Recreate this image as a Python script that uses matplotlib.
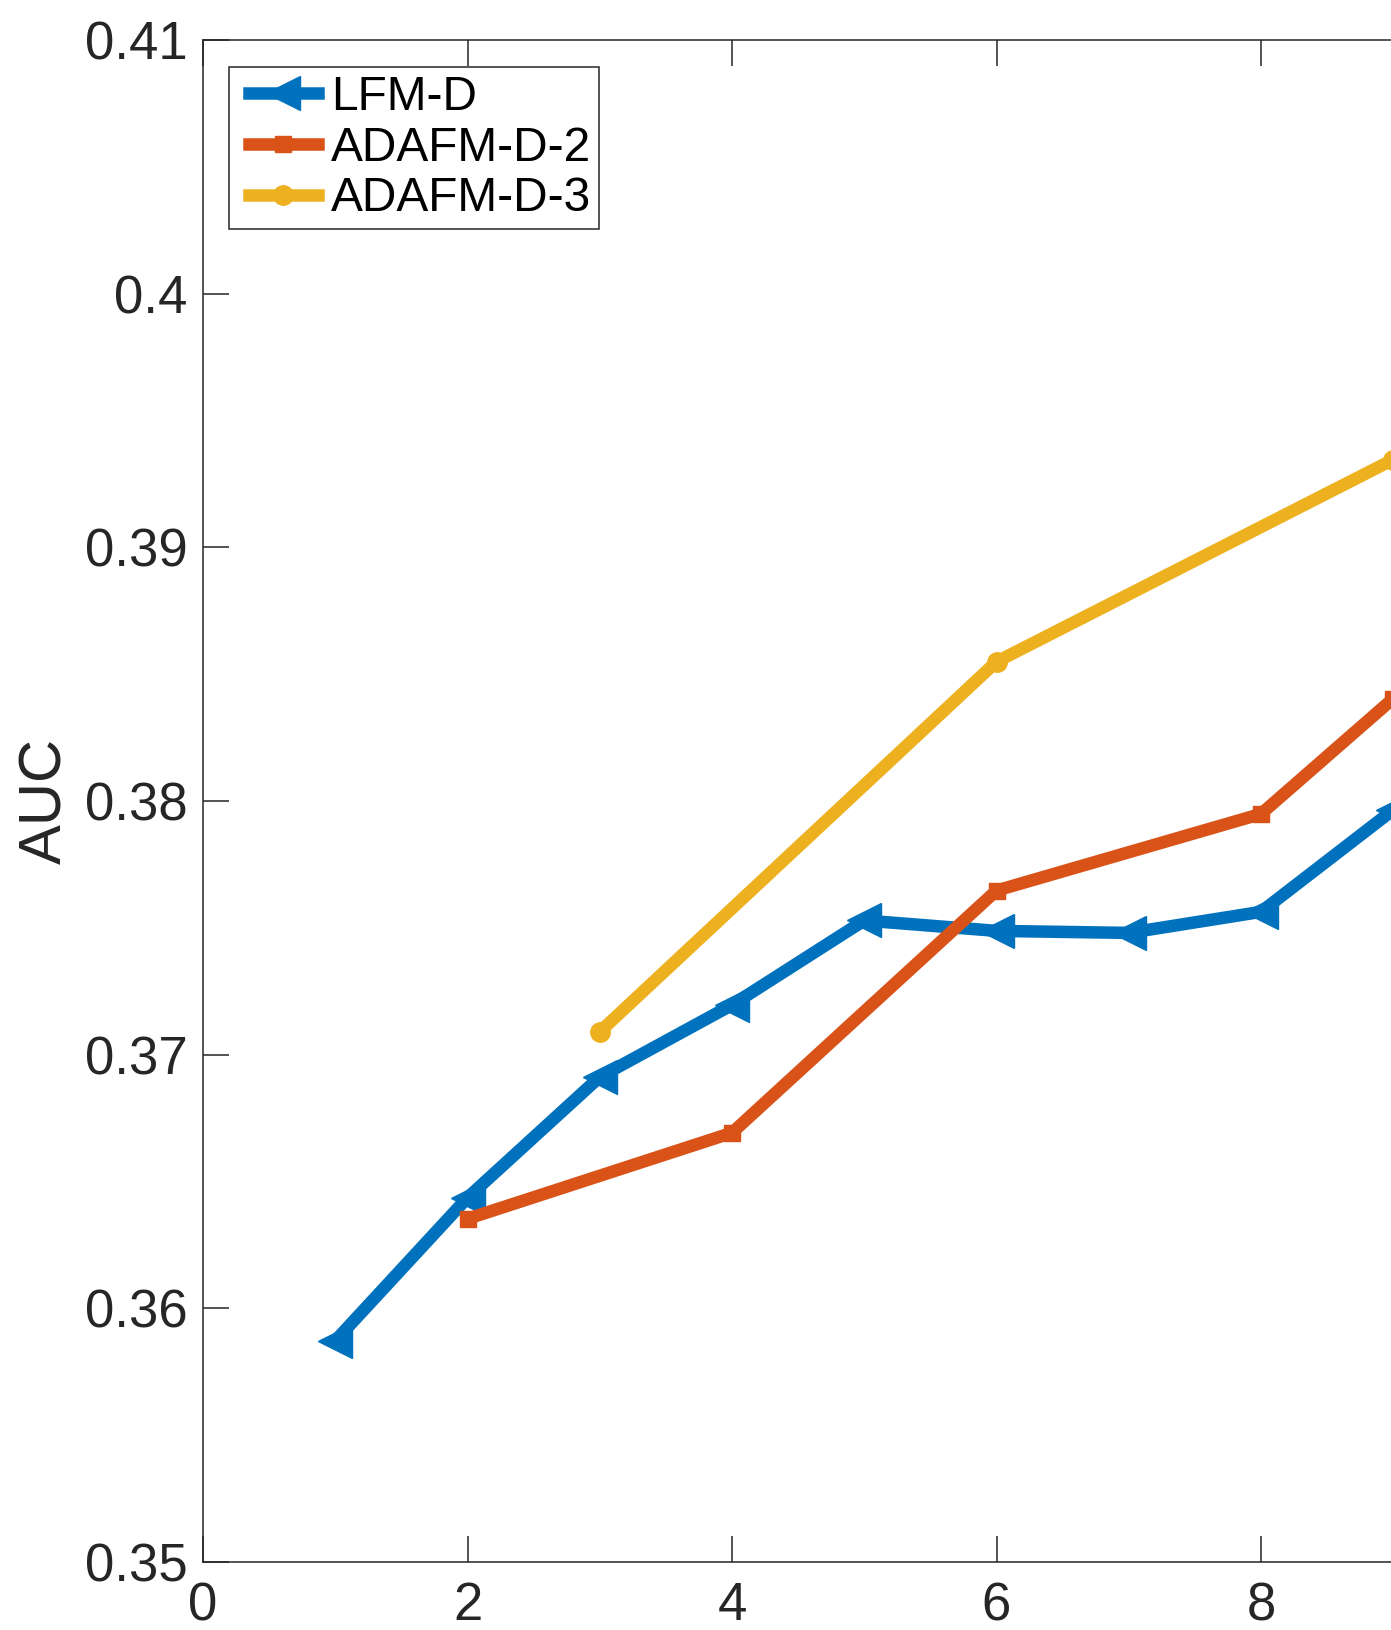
import matplotlib
matplotlib.use("Agg")
import matplotlib.pyplot as plt
from matplotlib.legend_handler import HandlerLine2D
from matplotlib.transforms import Affine2D

# Data
x_lfm = [1, 2, 3, 4, 5, 6, 7, 8, 9]
y_lfm = [0.35872, 0.36436, 0.36912, 0.37196, 0.37529, 0.37488, 0.37480, 0.37563, 0.37965]

x_ada2 = [2, 4, 6, 8, 9]
y_ada2 = [0.36353, 0.36692, 0.37647, 0.37949, 0.38404]

x_ada3 = [3, 6, 9]
y_ada3 = [0.37090, 0.38549, 0.39346]

labels = ["LFM-D", "ADAFM-D-2", "ADAFM-D-3"]
xticks = [0, 2, 4, 6, 8, 10]
yticks = [0.35, 0.36, 0.37, 0.38, 0.39, 0.40, 0.41]
yticklabels = ["0.35", "0.36", "0.37", "0.38", "0.39", "0.4", "0.41"]

plt.rcParams['font.family'] = ['Liberation Sans', 'DejaVu Sans']


class ShiftHandler(HandlerLine2D):
    """Legend line handle shifted right inside its box."""
    def __init__(self, shift_em=0.24, **kw):
        super().__init__(**kw)
        self.shift_em = shift_em

    def create_artists(self, legend, orig_handle, xdescent, ydescent, width,
                       height, fontsize, trans):
        shift = self.shift_em * fontsize
        arts = super().create_artists(legend, orig_handle, xdescent, ydescent,
                                      width - shift, height, fontsize, trans)
        for a in arts:
            a.set_transform(Affine2D().translate(shift, 0) + trans)
        return arts


W, H, DPI = 1391, 1630, 100
fig = plt.figure(figsize=(W / DPI, H / DPI), dpi=DPI)
left, right, top, bottom = 203, 1525.5, 40, 1562
ax = fig.add_axes([left / W, (H - bottom) / H, (right - left) / W, (bottom - top) / H])

c1, c2, c3 = "#0072BD", "#D95319", "#EDB120"
l1, = ax.plot(x_lfm, y_lfm, color=c1, lw=9, marker='<', ms=25, mew=1, mec=c1, mfc=c1,
              label=labels[0], clip_on=False, solid_joinstyle='miter')
l2, = ax.plot(x_ada2, y_ada2, color=c2, lw=9, marker='s', ms=11, mew=1, mec=c2, mfc=c2,
              label=labels[1], clip_on=False)
l3, = ax.plot(x_ada3, y_ada3, color=c3, lw=9, marker='o', ms=14, mew=1, mec=c3, mfc=c3,
              label=labels[2], clip_on=False)

ax.set_xlim(0, 10)
ax.set_ylim(0.35, 0.41)
ax.set_xticks(xticks)
ax.set_xticklabels([str(v) for v in xticks])
ax.set_yticks(yticks)
ax.set_yticklabels(yticklabels)

spine_col = "#262626"
for s in ax.spines.values():
    s.set_color(spine_col)
    s.set_linewidth(1.1)
ax.tick_params(axis='both', direction='in', length=19, width=1.1, color=spine_col,
               labelcolor=spine_col, labelsize=38, top=True, right=True)
ax.tick_params(axis='x', pad=14)
ax.tick_params(axis='y', pad=11)

ax.set_ylabel("AUC", fontsize=43, color=spine_col, labelpad=8)

hmap = {l1: ShiftHandler(), l2: ShiftHandler(), l3: ShiftHandler()}
leg = ax.legend(loc='upper left', bbox_to_anchor=(0.0197, 0.9825), borderaxespad=0,
                fontsize=34.5, handlelength=1.68, handletextpad=0.27, borderpad=0.17,
                labelspacing=0.12, fancybox=False, framealpha=1, edgecolor='#262626',
                handler_map=hmap)
leg.get_frame().set_linewidth(1.1)

fig.savefig("out.png", dpi=DPI)
